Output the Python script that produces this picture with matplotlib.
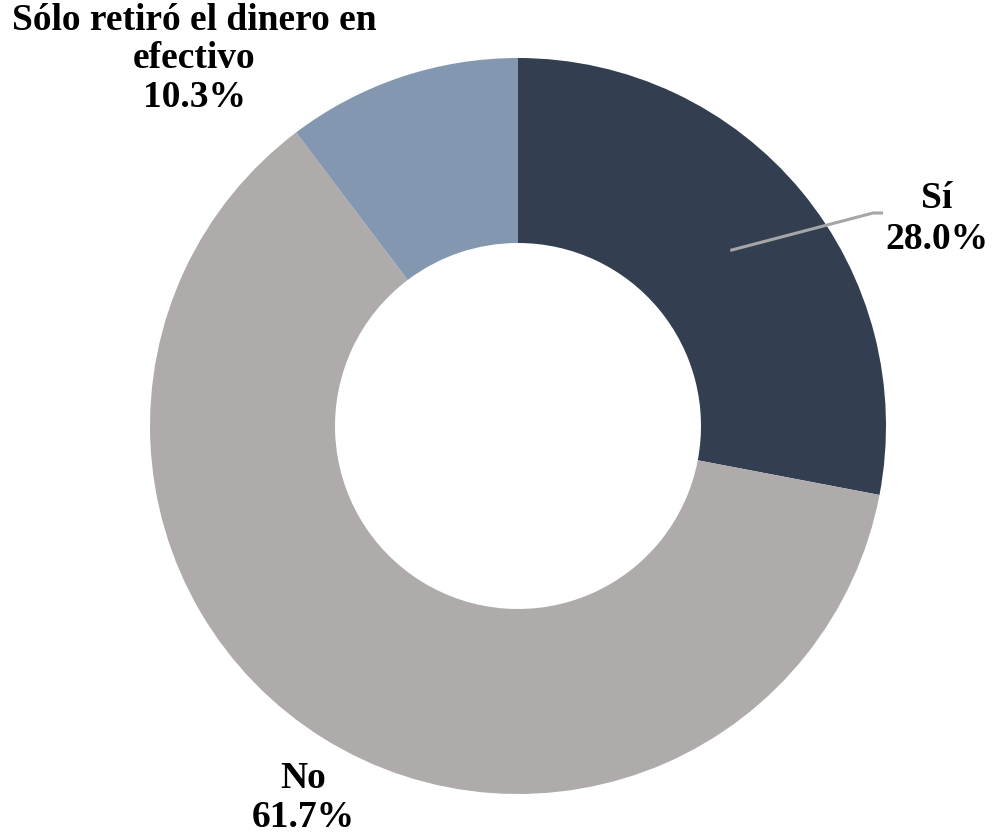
import numpy as np
import matplotlib
matplotlib.use("Agg")
import matplotlib.pyplot as plt

categories = ["Sí", "No", "Sólo retiró el dinero en\nefectivo"]
values = [28.0, 61.7, 10.3]
colors = ["#333F50", "#AFABAB", "#8497B0"]

fig = plt.figure(figsize=(10, 8.36), dpi=100)
ax = fig.add_axes([0, 0, 1, 1])

cx, cy, R, W = 518, 410, 368, 185
wedges, _ = ax.pie(values, colors=colors, startangle=90, counterclock=False,
                   radius=R, center=(cx, cy), frame=True,
                   wedgeprops=dict(width=W, linewidth=0))
ax.set_xlim(0, 1000)
ax.set_ylim(0, 836)
ax.set_aspect("equal")
ax.axis("off")

font = dict(family=["Liberation Serif", "DejaVu Serif"], fontweight="bold", fontsize=27)
labels = [f"{c}\n{v:.1f}%" for c, v in zip(categories, values)]
positions = [(937, 617), (303, 38), (194, 777)]
spacings = [1.2, 1.12, 1.12]
for lab, (x, y), ls in zip(labels, positions, spacings):
    ax.text(x, y, lab, ha="center", va="center", linespacing=ls, **font)

# leader line for "Sí"
w = wedges[0]
ang = np.deg2rad((w.theta1 + w.theta2) / 2)
r_mid = R - W / 2
x0, y0 = cx + r_mid * np.cos(ang), cy + r_mid * np.sin(ang)
ax.plot([x0, 873, 883], [y0, 623, 623], color="#A6A6A6", lw=2.2, solid_capstyle="butt")

fig.savefig("out.png", dpi=100, facecolor="white")
